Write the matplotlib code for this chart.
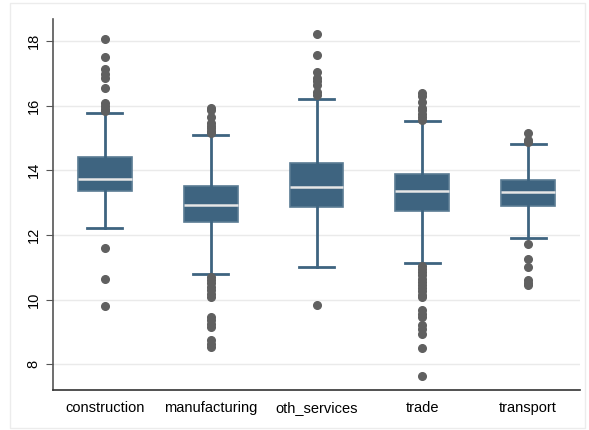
import numpy as np
import matplotlib.pyplot as plt
from matplotlib.patches import Rectangle

plt.rcParams['font.family'] = ['Liberation Sans', 'DejaVu Sans']

sectors = ['construction', 'manufacturing', 'oth_services', 'trade', 'transport']
q1 = [13.36, 12.39, 12.85, 12.75, 12.89]
med = [13.74, 12.91, 13.48, 13.35, 13.32]
q3 = [14.41, 13.52, 14.23, 13.89, 13.70]
whislo = [12.20, 10.78, 11.01, 11.14, 11.91]
whishi = [15.76, 15.09, 16.21, 15.52, 14.82]
fliers = [
    [18.06, 17.50, 17.12, 16.98, 16.86, 16.55, 16.09, 15.99, 15.90, 15.84,
     11.58, 10.62, 9.80],
    [15.92, 15.85, 15.66, 15.45, 15.38, 15.30, 15.22, 15.15,
     10.70, 10.60, 10.50, 10.40, 10.30, 10.18, 10.08, 9.46, 9.38, 9.25, 9.15,
     8.74, 8.62, 8.54],
    [18.23, 17.58, 17.05, 16.85, 16.75, 16.64, 16.43, 16.33, 9.82],
    [16.38, 16.30, 16.12, 15.93, 15.85, 15.75, 15.65, 15.55,
     11.05, 10.95, 10.85, 10.75, 10.65, 10.55, 10.45, 10.35, 10.25, 10.15, 10.08,
     9.67, 9.55, 9.46, 9.20, 9.08, 8.92, 8.49, 7.64],
    [15.16, 14.94, 14.86, 11.72, 11.24, 11.00, 10.60, 10.52, 10.45],
]

stats = []
for i, s in enumerate(sectors):
    stats.append(dict(label=s, q1=q1[i], med=med[i], q3=q3[i],
                      whislo=whislo[i], whishi=whishi[i], fliers=fliers[i]))

blue = '#3e6480'
fig = plt.figure(figsize=(5.89, 4.30), dpi=100)
ax = fig.add_axes([53 / 589, 40 / 430, 527 / 589, 371 / 430])

fig.patches.append(Rectangle((10 / 589, 2 / 430), 575 / 589, 425 / 430,
                             transform=fig.transFigure, fill=False,
                             edgecolor='#ececec', linewidth=1))

ax.bxp(stats, positions=range(1, 6), widths=0.51, patch_artist=True,
       showfliers=True,
       boxprops=dict(facecolor=blue, edgecolor='#5a7b93', linewidth=1.2),
       medianprops=dict(color='#e6e6e6', linewidth=1.8),
       whiskerprops=dict(color=blue, linewidth=2),
       capprops=dict(color=blue, linewidth=2),
       capwidths=0.33,
       flierprops=dict(marker='o', markerfacecolor='#606060',
                       markeredgecolor='#606060', markersize=5.5))

ax.set_xlim(0.51, 5.49)
ax.set_ylim(7.2, 18.68)
ax.set_yticks([8, 10, 12, 14, 16, 18])
ax.grid(axis='y', color='#eaeaea', linewidth=1)
ax.set_axisbelow(True)
for s in ['top', 'right']:
    ax.spines[s].set_visible(False)
ax.spines['left'].set_color('#555555')
ax.spines['bottom'].set_color('#333333')
ax.spines['left'].set_linewidth(1.2)
ax.spines['bottom'].set_linewidth(1.2)
ax.tick_params(axis='x', length=0, labelsize=10.5, pad=8)
ax.tick_params(axis='y', length=5, color='#555555', labelsize=10.5, pad=4)
for t in ax.get_yticklabels():
    t.set_rotation(90)
    t.set_va('center')

fig.savefig('out.png', dpi=100)
